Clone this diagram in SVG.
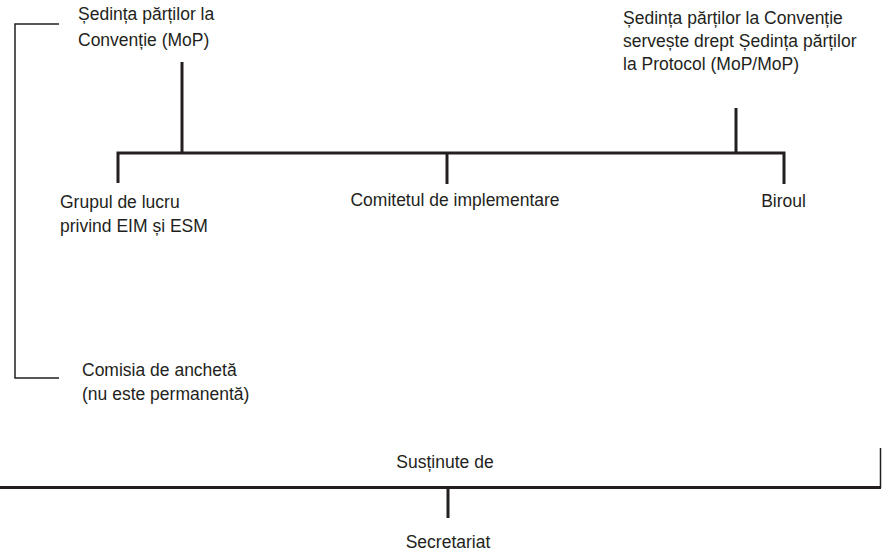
<svg xmlns="http://www.w3.org/2000/svg" width="882" height="558" viewBox="0 0 882 558">
<style>
.t{font-family:"Liberation Sans",Arial,sans-serif;font-size:17.5px;fill:#231f20}
.c{text-anchor:middle}
.thick{stroke:#231f20;stroke-width:3;fill:none}
.thin{stroke:#231f20;stroke-width:1.5;fill:none}
</style>
<rect width="882" height="558" fill="#fff"/>
<g id="connectors">
<path class="thin" d="M59,24 H15 V378 H59"/>
<path class="thick" d="M182,62 V153"/>
<path class="thick" d="M736,108 V153"/>
<path class="thick" d="M118,183 V153 H784 V184"/>
<path class="thick" d="M447,153 V184"/>
<path class="thick" d="M0,487.5 H881"/>
<path class="thin" d="M880.5,448 V488"/>
<path class="thick" d="M448,487 V518"/>
</g>
<g id="mop">
<text class="t" x="78" y="20">Ședința părților la</text>
<text class="t" x="78" y="46">Convenție (MoP)</text>
</g>
<g id="mopmop">
<text class="t" x="623" y="24">Ședința părților la Convenție</text>
<text class="t" x="623" y="47">servește drept Ședința părților</text>
<text class="t" x="623" y="70">la Protocol (MoP/MoP)</text>
</g>
<g id="grupul">
<text class="t" x="60" y="208">Grupul de lucru</text>
<text class="t" x="60" y="232">privind EIM și ESM</text>
</g>
<g id="comitetul">
<text class="t c" x="455" y="206">Comitetul de implementare</text>
</g>
<g id="biroul">
<text class="t c" x="783.5" y="207">Biroul</text>
</g>
<g id="comisia">
<text class="t" x="82" y="376">Comisia de anchetă</text>
<text class="t" x="82" y="400">(nu este permanentă)</text>
</g>
<g id="sustinute">
<text class="t c" x="445" y="468">Susținute de</text>
</g>
<g id="secretariat">
<text class="t c" x="448" y="548">Secretariat</text>
</g>
</svg>
